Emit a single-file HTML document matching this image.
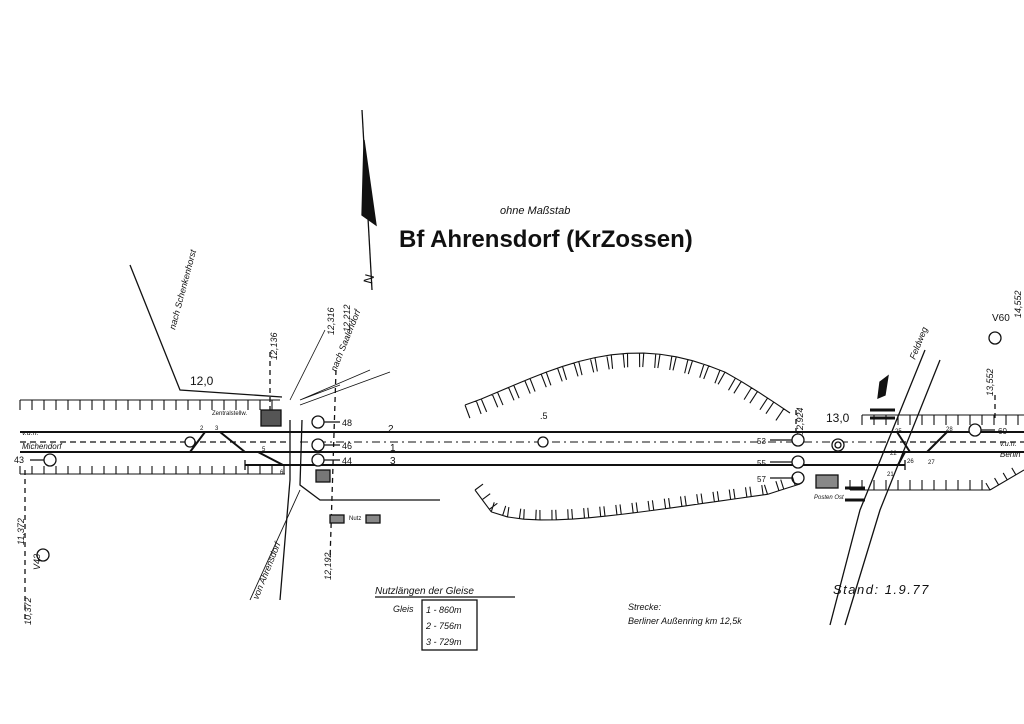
<!DOCTYPE html>
<html><head><meta charset="utf-8"><style>
html,body{margin:0;padding:0;background:#fff;width:1024px;height:724px;overflow:hidden}
svg{display:block}
text{font-family:"Liberation Sans",sans-serif;fill:#111}
.i{font-style:italic}
</style></head><body>
<svg id="s" width="1024" height="724" viewBox="0 0 1024 724" xmlns="http://www.w3.org/2000/svg">
<g stroke="#111" fill="none" stroke-width="1.3">
<line x1="362" y1="110" x2="372" y2="290"/>
<path d="M364 140 L362 215 L376 225 Z" fill="#111"/>
<text x="366" y="283" font-size="13" stroke="none" transform="rotate(-75 370 280)">N</text>
<line x1="20" y1="432" x2="1024" y2="432" stroke-width="2"/>
<line x1="20" y1="442" x2="290" y2="442" stroke-dasharray="6 4"/>
<line x1="300" y1="442" x2="880" y2="442" stroke-dasharray="8 4 2 4" stroke-width="0.9"/>
<line x1="880" y1="442" x2="1024" y2="442" stroke-dasharray="6 4"/>
<line x1="20" y1="452" x2="1024" y2="452" stroke-width="2"/>
<line x1="245" y1="465" x2="905" y2="465" stroke-width="2"/>
<line x1="905" y1="460" x2="905" y2="470"/>
<line x1="245" y1="460" x2="245" y2="470"/>
<path d="M190 452 L205 432 L220 432 L245 452" stroke-width="2"/>
<path d="M258 452 L283 465" stroke-width="2"/>
<path d="M898 465 L905 452 M897 432 L910 452 M947 432 L927 452" stroke-width="2"/>
<path d="M130 265 L180 390 L282 397"/>
<path d="M290 420 L290 480 L280 600"/>
<path d="M302 420 L300 485 L320 500 L440 500"/>
<path d="M325 330 L290 400 M370 370 L300 400 M390 372 L300 405 M340 385 L300 400" stroke-width="0.8"/>
<path d="M300 490 L250 600" stroke-width="0.9"/>
<path d="M925 350 L860 510 L830 625 M940 360 L880 510 L845 625"/>
<path d="M880 382 L888 376 L885 395 L878 398 Z" fill="#111"/>
<g stroke-dasharray="5 4">
<line x1="270" y1="352" x2="270" y2="410"/>
<line x1="336" y1="370" x2="330" y2="560"/>
<line x1="25" y1="470" x2="25" y2="620"/>
<line x1="796" y1="410" x2="796" y2="440"/>
<line x1="995" y1="395" x2="995" y2="420"/>
</g>
<g fill="#fff">
<circle cx="318" cy="422" r="6"/><circle cx="318" cy="445" r="6"/><circle cx="318" cy="460" r="6"/>
<circle cx="50" cy="460" r="6"/><circle cx="190" cy="442" r="5"/>
<circle cx="43" cy="555" r="6"/>
<circle cx="798" cy="440" r="6"/><circle cx="798" cy="462" r="6"/><circle cx="798" cy="478" r="6"/>
<circle cx="975" cy="430" r="6"/><circle cx="995" cy="338" r="6"/>
<circle cx="838" cy="445" r="6"/><circle cx="838" cy="445" r="3"/>
<circle cx="543" cy="442" r="5"/>
</g>
<path d="M324 422 H340 M324 445 H340 M324 460 H340 M30 460 H44 M770 440 H792 M770 462 H792 M770 478 H792 M981 430 H995"/>
<rect x="261" y="410" width="20" height="16" fill="#555"/>
<rect x="316" y="470" width="14" height="12" fill="#777"/>
<rect x="816" y="475" width="22" height="13" fill="#888"/>
<rect x="330" y="515" width="14" height="8" fill="#888"/><rect x="366" y="515" width="14" height="8" fill="#888"/>
<path d="M870 410 L895 410 M870 418 L895 418 M845 488 L865 488 M845 500 L865 500" stroke-width="3"/>
<line x1="375" y1="597" x2="515" y2="597"/>
<rect x="422" y="600" width="55" height="50"/>
</g>
<g id="h" stroke="#111" stroke-width="1.1" fill="none"></g>
<text x="500" y="214" font-size="11" class="i">ohne Maßstab</text>
<text x="399" y="247" font-size="24" font-weight="bold">Bf Ahrensdorf (KrZossen)</text>
<text x="190" y="385" font-size="12">12,0</text>
<text x="826" y="422" font-size="12">13,0</text>
<text x="540" y="419" font-size="9">.5</text>
<text x="22" y="435" font-size="7" class="i">v.u.n.</text>
<text x="22" y="449" font-size="8" class="i">Michendorf</text>
<text x="14" y="463" font-size="9">43</text>
<text x="212" y="415" font-size="6">Zentralstellw.</text>
<text x="342" y="426" font-size="9">48</text><text x="342" y="449" font-size="9">46</text><text x="342" y="464" font-size="9">44</text>
<text x="388" y="432" font-size="10">2</text><text x="390" y="451" font-size="10">1</text><text x="390" y="464" font-size="10">3</text>
<text x="757" y="444" font-size="8">53</text><text x="757" y="466" font-size="8">55</text><text x="757" y="482" font-size="8">57</text>
<text x="814" y="499" font-size="6" class="i">Posten Ost</text>
<text x="998" y="434" font-size="8">60</text>
<text x="1000" y="446" font-size="7" class="i">v.u.n.</text>
<text x="1000" y="457" font-size="8" class="i">Berlin</text>
<text x="992" y="321" font-size="10">V60</text>
<text x="200" y="430" font-size="6">2</text><text x="215" y="430" font-size="6">3</text><text x="262" y="451" font-size="6">5</text><text x="280" y="474" font-size="6">6</text>
<text x="895" y="433" font-size="6">25</text><text x="946" y="431" font-size="6">28</text><text x="890" y="455" font-size="6">22</text><text x="907" y="463" font-size="6">26</text><text x="928" y="464" font-size="6">27</text><text x="887" y="476" font-size="6">21</text>
<text x="349" y="520" font-size="6">Nutz</text>
<g font-size="9" class="i">
<text transform="translate(175 330) rotate(-75)">nach Schenkenhorst</text>
<text transform="translate(336 372) rotate(-68)">nach Saalendorf</text>
<text transform="translate(258 600) rotate(-68)">von Ahrensdorf</text>
<text transform="translate(915 360) rotate(-68)">Feldweg</text>
<text transform="translate(277 360) rotate(-90)">12,136</text>
<text transform="translate(334 335) rotate(-90)">12,316</text>
<text transform="translate(350 332) rotate(-90)">12,212</text>
<text transform="translate(331 580) rotate(-90)">12,192</text>
<text transform="translate(803 435) rotate(-90)">12,924</text>
<text transform="translate(993 396) rotate(-90)">13,552</text>
<text transform="translate(1021 318) rotate(-90)">14,552</text>
<text transform="translate(24 545) rotate(-90)">11,372</text>
<text transform="translate(31 625) rotate(-90)">10,372</text>
<text transform="translate(40 570) rotate(-90)">V43</text>
</g>
<text x="833" y="594" font-size="13" font-style="italic" letter-spacing="1.5">Stand: 1.9.77</text>
<text x="375" y="594" font-size="10" class="i">Nutzlängen der Gleise</text>
<text x="393" y="612" font-size="9" class="i">Gleis</text>
<text x="426" y="613" font-size="9" class="i">1 - 860m</text>
<text x="426" y="629" font-size="9" class="i">2 - 756m</text>
<text x="426" y="645" font-size="9" class="i">3 - 729m</text>
<text x="628" y="610" font-size="9" class="i">Strecke:</text>
<text x="628" y="624" font-size="9" class="i">Berliner Außenring  km 12,5k</text>
</svg>
<script>
var g=document.getElementById('h'),d='';
function line(x1,y1,x2,y2,dir,step,len){var L=Math.hypot(x2-x1,y2-y1),n=Math.floor(L/step),ux=(x2-x1)/L,uy=(y2-y1)/L;d+='M'+x1+' '+y1+'L'+x2+' '+y2;for(var i=0;i<=n;i++){var x=x1+ux*i*step,y=y1+uy*i*step;d+='M'+x+' '+y+'l'+(-uy*len*dir)+' '+(ux*len*dir);}}
line(20,400,280,400,1,12,10);
line(20,474,285,474,-1,12,8);
line(862,415,1024,415,1,12,10);
line(850,490,990,490,-1,12,10);
line(990,490,1024,470,-1,10,8);
function curve(pts,dir,step,len){d+='M'+pts[0][0]+' '+pts[0][1];for(var i=1;i<pts.length;i++){var a=pts[i-1],b=pts[i];d+='L'+b[0]+' '+b[1];var L=Math.hypot(b[0]-a[0],b[1]-a[1]),ux=(b[0]-a[0])/L,uy=(b[1]-a[1])/L;for(var t=0;t<L;t+=step){var x=a[0]+ux*t,y=a[1]+uy*t;d+='M'+x+' '+y+'l'+(-uy*len*dir)+' '+(ux*len*dir)+'M'+b[0]+' '+b[1];}}}
var up=[],lo=[];
for(var t=0;t<=1.001;t+=0.05){var x=465+t*325;up.push([x,405-52*Math.sin(Math.PI*Math.pow(t,1.1))+(t>0.8?(t-0.8)*40:0)]);lo.push([x+10,490+30*Math.sin(Math.PI*Math.pow(t,0.45))-(t>0.9?(t-0.9)*60:0)]);}
curve(up,1,12,14);
curve(lo,-1,12,10);
var p=document.createElementNS('http://www.w3.org/2000/svg','path');p.setAttribute('d',d);g.appendChild(p);
</script>
</body></html>
